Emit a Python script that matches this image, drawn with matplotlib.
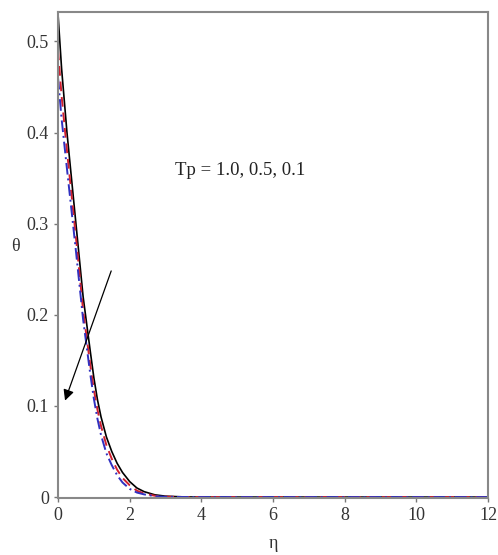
import matplotlib
matplotlib.use('Agg')
from matplotlib import pyplot as plt

# Tp = 1.0 (solid black), 0.5 (red dashed), 0.1 (blue dash-dot)
eta = [0, 0.1, 0.25, 0.5, 0.7, 0.9, 1.0, 1.1, 1.2, 1.35, 1.5, 1.65, 1.8, 2.0, 2.2, 2.4, 2.7, 3.0, 3.5, 4, 6, 8, 10, 12]
theta_tp10 = [0.53, 0.47, 0.40, 0.30, 0.22, 0.16, 0.131, 0.107, 0.088, 0.066, 0.050, 0.037, 0.027, 0.017, 0.010, 0.006, 0.0025, 0.001, 0.0002, 0, 0, 0, 0, 0]
theta_tp05 = [0.49, 0.44, 0.38, 0.285, 0.205, 0.145, 0.118, 0.096, 0.078, 0.057, 0.042, 0.030, 0.021, 0.013, 0.007, 0.004, 0.0015, 0.0005, 0.0001, 0, 0, 0, 0, 0]
theta_tp01 = [0.46, 0.415, 0.36, 0.27, 0.195, 0.135, 0.108, 0.086, 0.068, 0.048, 0.035, 0.024, 0.016, 0.009, 0.005, 0.003, 0.001, 0.0003, 0.0001, 0, 0, 0, 0, 0]

xticks = [0, 2, 4, 6, 8, 10, 12]
yticks = [0, 0.1, 0.2, 0.3, 0.4, 0.5]
ytick_labels = ['0', '0.1', '0.2', '0.3', '0.4', '0.5']

plt.rcParams['font.family'] = ['Liberation Serif', 'DejaVu Serif']

fig = plt.figure(figsize=(4.98, 5.55), dpi=100)
ax = fig.add_axes([0.1165, 0.1027, 0.8635, 0.8753])

ax.plot(eta, theta_tp10, color='black', lw=1.2, ls='-')
ax.plot(eta, theta_tp05, color='#d02030', lw=1.4, ls=(0, (5, 3)))
ax.plot(eta, theta_tp01, color='#3030c0', lw=1.4, ls=(0, (6, 2, 1, 2)))

ax.annotate('', xy=(0.17, 0.103), xytext=(1.51, 0.251),
            arrowprops=dict(arrowstyle='-|>', color='black', lw=0.9,
                            mutation_scale=16))
ax.text(3.27, 0.358, 'Tp = 1.0, 0.5, 0.1', fontsize=13.5, va='center', ha='left',
        color='#222222')

ax.set_xlim(0, 12)
ax.set_ylim(-0.001, 0.532)
ax.set_xticks(xticks)
ax.set_yticks(yticks)
ax.set_yticklabels(ytick_labels)
ax.tick_params(labelsize=13, color='#777777', labelcolor='#333333', length=3, width=1)

for s in ax.spines.values():
    s.set_color('#888888')
    s.set_linewidth(1.5)

ax.set_xlabel('η', fontsize=13, color='#333333', labelpad=8)
ax.set_ylabel('θ', fontsize=13, color='#333333', rotation=0, labelpad=8)

fig.savefig('out.png', dpi=100)
